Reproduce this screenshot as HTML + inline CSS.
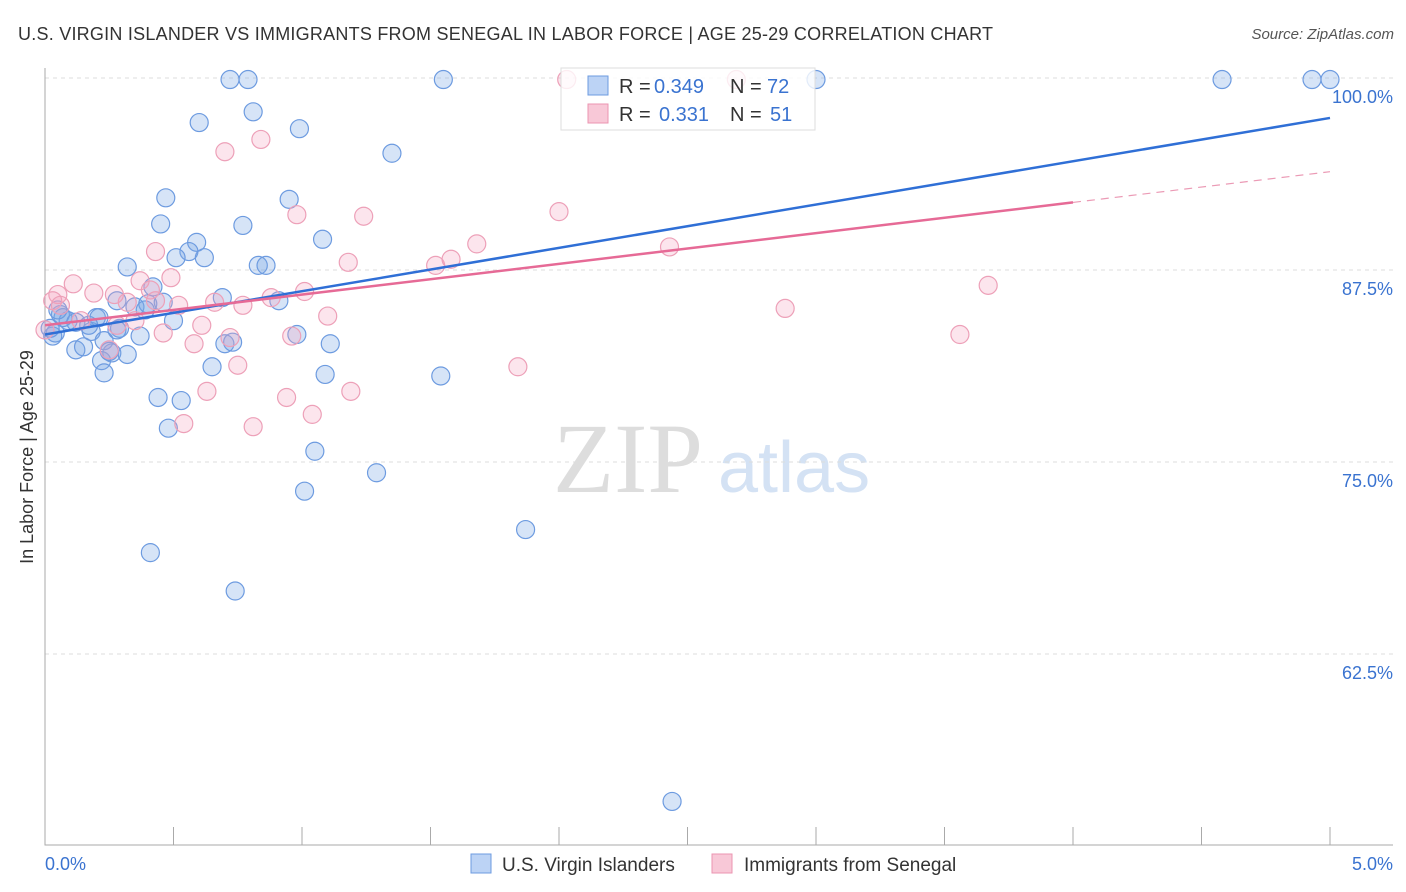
<!DOCTYPE html>
<html><head><meta charset="utf-8"><style>
body{margin:0;background:#fff;font-family:"Liberation Sans",sans-serif;}
#wrap{position:relative;width:1406px;height:892px;overflow:hidden;}
</style></head><body>
<div id="wrap">
<svg id="svg" width="1406" height="892" xmlns="http://www.w3.org/2000/svg">
<text x="18" y="40" font-size="18" fill="#333" textLength="975">U.S. VIRGIN ISLANDER VS IMMIGRANTS FROM SENEGAL IN LABOR FORCE | AGE 25-29 CORRELATION CHART</text>
<text x="1394" y="39" font-size="15" fill="#555" font-style="italic" text-anchor="end">Source: ZipAtlas.com</text>
<text transform="translate(33,457) rotate(-90)" font-size="18" fill="#333" text-anchor="middle">In Labor Force | Age 25-29</text>
<g>
<text x="553" y="492" font-size="100" fill="#ddd" font-family="Liberation Serif,serif">ZIP</text>
<text x="718" y="492" font-size="72" fill="#d4e2f4">atlas</text>
</g>
<g id="grid"></g><g id="axes"></g><g id="pts"></g><g id="lines"></g>
<g>
<rect x="561" y="68" width="254" height="62" fill="#fff" fill-opacity="0.8" stroke="#ddd"/>
<rect x="588" y="76" width="20" height="19" fill="#bcd3f5" stroke="#6d9be0"/>
<text x="619" y="93" font-size="20" fill="#333">R = </text><text x="654" y="93" font-size="20" fill="#3a73d0">0.349</text>
<text x="730" y="93" font-size="20" fill="#333">N = </text><text x="767" y="93" font-size="20" fill="#3a73d0">72</text>
<rect x="588" y="104" width="20" height="19" fill="#f8c8d7" stroke="#eb95b1"/>
<text x="619" y="121" font-size="20" fill="#333">R = </text><text x="659" y="121" font-size="20" fill="#3a73d0">0.331</text>
<text x="730" y="121" font-size="20" fill="#333">N = </text><text x="770" y="121" font-size="20" fill="#3a73d0">51</text>
</g>
<g>
<rect x="471" y="854" width="20" height="19" fill="#bcd3f5" stroke="#6d9be0"/>
<text x="502" y="871" font-size="19" fill="#333">U.S. Virgin Islanders</text>
<rect x="712" y="854" width="20" height="19" fill="#f8c8d7" stroke="#eb95b1"/>
<text x="744" y="871" font-size="19" fill="#333">Immigrants from Senegal</text>
</g>
</svg>
</div>
<script>
const yTicks=[100,87.5,75,62.5];
const yTickLabels=["100.0%","87.5%","75.0%","62.5%"];
const xTickLabels=["0.0%","5.0%"];
const blueX=[0.72,0.79,1.55,3.00,4.58,4.93,5.00,0.81,0.60,0.99,1.35,0.47,0.95,0.45,0.77,1.08,0.59,0.56,0.62,0.51,0.32,0.83,0.86,0.42,0.69,0.35,0.40,0.28,0.46,0.06,0.09,0.20,0.50,0.29,0.37,0.04,0.03,0.18,0.23,0.70,0.73,0.98,1.11,0.12,0.15,0.26,0.32,0.22,0.65,0.23,1.09,1.54,0.44,0.53,0.48,1.05,1.29,1.01,1.87,0.41,0.74,2.44,0.07,0.12,0.05,0.02,0.25,0.39,0.21,0.17,0.28,0.91];
const blueY=[99.9,99.9,99.9,99.9,99.9,99.9,99.9,97.8,97.1,96.7,95.1,92.2,92.1,90.5,90.4,89.5,89.3,88.7,88.3,88.3,87.7,87.8,87.8,86.4,85.7,85.1,85.3,85.5,85.4,84.6,84.2,84.4,84.2,83.7,83.2,83.4,83.2,83.5,82.9,82.7,82.8,83.3,82.7,82.3,82.5,82.1,82.0,81.6,81.2,80.8,80.7,80.6,79.2,79.0,77.2,75.7,74.3,73.1,70.6,69.1,66.6,52.9,84.4,84.1,84.9,83.7,82.2,84.9,84.4,83.9,83.6,85.5];
const pinkX=[2.03,2.69,0.84,0.70,0.98,1.24,2.00,1.68,0.43,1.18,2.43,1.52,1.58,0.11,0.37,0.49,3.67,0.05,0.19,0.32,0.41,0.52,0.66,0.77,0.88,1.01,2.88,0.61,1.10,0.28,0.46,0.72,0.96,3.56,0.58,0.25,0.75,1.84,1.19,0.63,0.94,1.04,0.54,0.81,0.03,0.06,0.14,0.00,0.35,0.43,0.27];
const pinkY=[99.9,99.9,96.0,95.2,91.1,91.0,91.3,89.2,88.7,88.0,89.0,87.8,88.2,86.6,86.8,87.0,86.5,85.9,86.0,85.4,86.2,85.2,85.4,85.2,85.7,86.1,85.0,83.9,84.5,83.9,83.4,83.1,83.2,83.3,82.7,82.3,81.3,81.2,79.6,79.6,79.2,78.1,77.5,77.3,85.5,85.2,84.2,83.6,84.2,85.5,85.9];
const blueLine=[[0,83.3],[5,97.4]];
const pinkLine=[[0,83.9],[4,91.9],[5,93.9]];
const NS="http://www.w3.org/2000/svg";
const X=v=>45+v*257;
const Y=v=>78+(100-v)*15.36;
function mk(tag,attrs,parent){const e=document.createElementNS(NS,tag);for(const k in attrs)e.setAttribute(k,attrs[k]);document.getElementById(parent).appendChild(e);return e;}
yTicks.forEach((t,i)=>{
 const g=mk('line',{x1:45,x2:1393,y1:Y(t),y2:Y(t),stroke:'#ddd','stroke-dasharray':'4,4'},'grid');
 
 
 const tx=mk('text',{x:1393,y:Y(t)+25,'font-size':18,fill:'#3a73d0','text-anchor':'end'},'grid');
 tx.textContent=yTickLabels[i];
 
 
});
const ax=mk('path',{d:'M45 68V845H1393',stroke:'#aaa',fill:'none'},'axes');


for(let i=0;i<=10;i++){const t=mk('line',{x1:X(i*0.5),x2:X(i*0.5),y1:827,y2:845,stroke:'#aaa'},'axes');
 
 }
[[0,'start',45],[1,'end',1393]].forEach(([i,a,x])=>{const t=mk('text',{x:x,y:870,'font-size':18,fill:'#3a73d0','text-anchor':a},'axes');t.textContent=xTickLabels[i];
 
 });
blueX.forEach((x,i)=>{const c=mk('circle',{cx:X(x),cy:Y(blueY[i]),r:9,fill:'rgba(120,165,230,0.3)',stroke:'#6d9be0','stroke-width':1.2},'pts');
 
 });
pinkX.forEach((x,i)=>{const c=mk('circle',{cx:X(x),cy:Y(pinkY[i]),r:9,fill:'rgba(245,160,190,0.28)',stroke:'#eda0b8','stroke-width':1.2},'pts');
 
 });
const bl=mk('line',{x1:X(blueLine[0][0]),y1:Y(blueLine[0][1]),x2:X(blueLine[1][0]),y2:Y(blueLine[1][1]),stroke:'#2f6fd6','stroke-width':2.5},'lines');


const pl=mk('line',{x1:X(pinkLine[0][0]),y1:Y(pinkLine[0][1]),x2:X(pinkLine[1][0]),y2:Y(pinkLine[1][1]),stroke:'#e66a96','stroke-width':2.5},'lines');


const pd=mk('line',{x1:X(pinkLine[1][0]),y1:Y(pinkLine[1][1]),x2:X(pinkLine[2][0]),y2:Y(pinkLine[2][1]),stroke:'#eb9ab5','stroke-width':1.2,'stroke-dasharray':'8,6'},'lines');


</script>
</body></html>
